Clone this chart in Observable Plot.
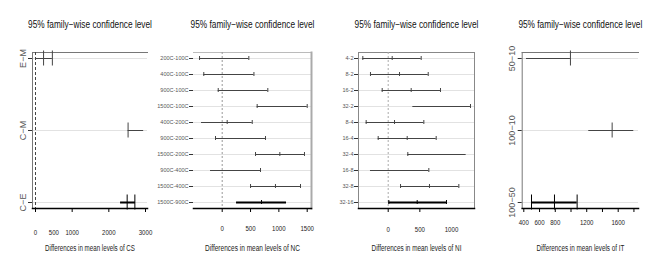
<!DOCTYPE html>
<html><head><meta charset="utf-8">
<script src="https://cdn.jsdelivr.net/npm/d3@7"></script>
<script src="https://cdn.jsdelivr.net/npm/@observablehq/plot@0.6"></script>
<style>
html,body{margin:0;padding:0;background:#fff;}
#wrap{position:relative;width:654px;height:273px;overflow:hidden;background:#fff;}
#wrap svg{position:absolute;top:0;}
</style></head><body><div id="wrap"></div>
<script>
const title = "95% family−wise confidence level";

// CS
const csComps = ["E−M", "C−M", "C−E"];
const csLwr = [0, 2525, 2320];
const csUpr = [460, 2950, 2725];
const csTicks = [[220, 460], [2525], [2500, 2710]];
const csTickMarks = [0, 1000, 2000, 3000];
const csTickLabels = [0, 500, 1000, 2000, 3000];

// NC
const ncComps = ["200C-100C", "400C-100C", "900C-100C", "1500C-100C", "400C-200C",
  "900C-200C", "1500C-200C", "900C-400C", "1500C-400C", "1500C-900C"];
const ncLwr = [-400, -325, -70, 617, -365, -118, 588, -206, 500, 253];
const ncUpr = [470, 560, 805, 1500, 530, 764, 1452, 676, 1382, 1135];
const ncTicks = [[-400, 470], [-325, 560], [-70, 805], [617, 1500], [88, 530],
  [-118, 764], [588, 1017, 1452], [676], [500, 940, 1382], [694]];
const ncTickMarks = [0, 500, 1000, 1500];
const ncTickLabels = [0, 500, 1000, 1500];

// NI
const niComps = ["4-2", "8-2", "16-2", "32-2", "8-4", "16-4", "32-4", "16-8", "32-8", "32-16"];
const niLwr = [-401, -280, -95, 389, -348, -158, 310, -280, 195, 10];
const niUpr = [521, 632, 826, 1300, 563, 758, 1232, 642, 1116, 921];
const niTicks = [[-401, 63, 521], [-280, 179, 632], [-95, 363, 826], [1300], [-348, 100, 563],
  [-158, 300, 758], [310], [642], [195, 652, 1116], [10, 458, 921]];
const niTickMarks = [0, 500];
const niTickLabels = [0, 500, 1000];

// IT
const itComps = ["50−10", "100−10", "100−50"];
const itLwr = [434, 1226, 498];
const itUpr = [993, 1798, 1078];
const itTicks = [[993], [1523], [498, 790, 1078]];
const itTickMarks = [400, 600, 800, 1000, 1200, 1400, 1600, 1800];
const itTickLabels = [400, 600, 800, 1200, 1600];

const FONT = "'Liberation Sans', Arial, sans-serif";
const ROW_TOP = 58, ROW_BOTTOM = 202;

// horizontally squeeze a text element about its anchor point
function squeeze(el, sx) {
  const tr = el.getAttribute("transform");
  if (tr !== null) {
    el.setAttribute("transform", tr + ` scale(${sx},1)`);
  } else {
    el.setAttribute("textLength", el.getComputedTextLength() * sx);
    el.setAttribute("lengthAdjust", "spacingAndGlyphs");
  }
}

function panel(o) {
  const n = o.comps.length;
  const step = (ROW_BOTTOM - ROW_TOP) / (n - 1);
  const rows = o.comps.map((c, i) => ({comp: c, lwr: o.lwr[i], upr: o.upr[i], last: i === n - 1}));
  const tickRows = o.comps.flatMap((c, i) => o.ticks[i].map(v => ({comp: c, v, last: i === n - 1})));
  const inset = step / 2 - o.tickH;
  const marks = [
    Plot.ruleY(o.comps, {y: d => d, stroke: "#e2e2e2"}),
    ...o.sides.map(s => Plot.frame({anchor: s.anchor, stroke: s.stroke, strokeWidth: s.w || 1})),
  ];
  if (o.zero) marks.push(Plot.ruleX([0], {stroke: o.zero.stroke, strokeDasharray: o.zero.dash}));
  marks.push(
    Plot.ruleY(rows.filter(d => !d.last), {y: "comp", x1: "lwr", x2: "upr", stroke: "#444", strokeWidth: 1}),
    Plot.ruleY(rows.filter(d => d.last), {y: "comp", x1: "lwr", x2: "upr", stroke: "#000", strokeWidth: 2}),
    Plot.tickX(tickRows, {x: "v", y: "comp", insetTop: inset, insetBottom: inset,
      stroke: d => d.last ? "#000" : "#444"}),
    Plot.axisY({tickSize: 4, tickPadding: o.yPad, fontSize: o.yFont, tickRotate: o.yRotate,
      label: null, fill: "#555", stroke: "#333", textStroke: "none"}),
    Plot.axisX({ticks: o.tickMarks, tickSize: 4, tickFormat: () => "", label: null, stroke: "#000"}),
    Plot.axisX({ticks: o.tickLabels, tickSize: 0, tickPadding: o.xPad, fontSize: 7.8, label: null,
      tickFormat: d => String(d), fill: "#222"}),
    Plot.frame({anchor: "bottom", stroke: "#000", strokeWidth: 1.5}),
    Plot.text([title], {text: d => d, frameAnchor: "top", dy: -32, fontSize: 10, fill: "#111"}),
    Plot.text([o.label], {text: d => d, frameAnchor: "bottom", dy: 42, fontSize: 9.5, fill: "#222"})
  );
  const svg = Plot.plot({
    width: o.width, height: 273,
    marginLeft: o.mL, marginRight: o.mR, marginTop: 52, marginBottom: 65,
    style: {fontFamily: FONT, background: "transparent", overflow: "visible"},
    x: {domain: o.xDomain, range: o.xRange, axis: null},
    y: {type: "band", domain: o.comps, range: [ROW_TOP - step / 2, ROW_BOTTOM + step / 2],
        padding: 0, axis: null},
    marks
  });
  svg.style.left = o.left + "px";
  document.getElementById("wrap").appendChild(svg);
  // narrow lettering as in the reference
  svg.querySelectorAll('g[aria-label="x-axis tick label"] text').forEach(t => squeeze(t, 0.78));
  svg.querySelectorAll("text").forEach(t => {
    if (t.textContent === title) squeeze(t, 124 / t.getComputedTextLength());
    else if (t.textContent === o.label) squeeze(t, o.labelLen / t.getComputedTextLength());
  });
}

panel({left: 0, width: 160, mL: 32, mR: 13, comps: csComps, lwr: csLwr, upr: csUpr, ticks: csTicks,
  xDomain: [0, 3000], xRange: [35, 145], tickMarks: csTickMarks, tickLabels: csTickLabels,
  tickH: 7.5, yRotate: -90, yFont: 9, yPad: 3, xPad: 21,
  label: "Differences in mean levels of CS", labelLen: 90,
  zero: {stroke: "#444", dash: "3,2"},
  sides: [{anchor: "top", stroke: "#777"}, {anchor: "left", stroke: "#777"}]});

panel({left: 160, width: 160, mL: 33, mR: 9, comps: ncComps, lwr: ncLwr, upr: ncUpr, ticks: ncTicks,
  xDomain: [0, 1500], xRange: [61.7, 146.7], tickMarks: ncTickMarks, tickLabels: ncTickLabels,
  tickH: 2, yRotate: 0, yFont: 5.5, yPad: 1, xPad: 17,
  label: "Differences in mean levels of NC", labelLen: 95,
  zero: {stroke: "#999", dash: "2,2"},
  sides: [{anchor: "top", stroke: "#bbb"}, {anchor: "right", stroke: "#aaa", w: 2}]});

panel({left: 320, width: 160, mL: 38, mR: 6, comps: niComps, lwr: niLwr, upr: niUpr, ticks: niTicks,
  xDomain: [0, 1000], xRange: [67.7, 131], tickMarks: niTickMarks, tickLabels: niTickLabels,
  tickH: 2, yRotate: 0, yFont: 5.5, yPad: 1, xPad: 18,
  label: "Differences in mean levels of NI", labelLen: 90,
  zero: {stroke: "#aaa", dash: "2,2"},
  sides: [{anchor: "top", stroke: "#888"}, {anchor: "left", stroke: "#888"}, {anchor: "right", stroke: "#888"}]});

panel({left: 480, width: 174, mL: 41.7, mR: 16, comps: itComps, lwr: itLwr, upr: itUpr, ticks: itTicks,
  xDomain: [400, 1600], xRange: [43.3, 137.7], tickMarks: itTickMarks, tickLabels: itTickLabels,
  tickH: 7.5, yRotate: -90, yFont: 9, yPad: 3, xPad: 11,
  label: "Differences in mean levels of IT", labelLen: 88,
  zero: null,
  sides: [{anchor: "top", stroke: "#777"}, {anchor: "left", stroke: "#777"}]});
</script></body></html>
